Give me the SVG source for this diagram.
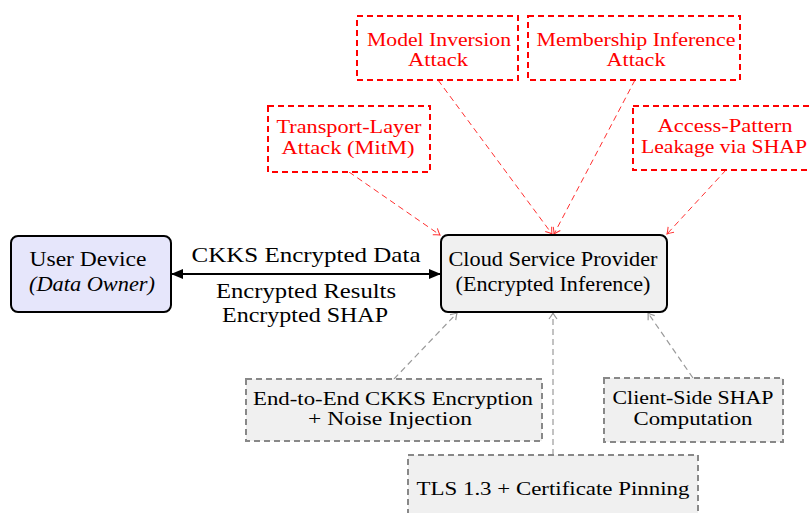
<svg xmlns="http://www.w3.org/2000/svg" width="810" height="513" viewBox="0 0 810 513">
<style>
  text { font-family: "Liberation Serif", "DejaVu Serif", serif; text-anchor: middle; fill: #000; }
  .main { font-size: 22px; }
  .sm { font-size: 19px; }
  .red { fill: #ff0000; }
  .attack { fill: #ffffff; stroke: #ff0000; stroke-width: 2; stroke-dasharray: 6 4; }
  .defense { fill: #f0f0f0; stroke: #888888; stroke-width: 2; stroke-dasharray: 6 4; }
  .solid { stroke: #000; stroke-width: 2; }
  .rline { stroke: #ff3030; stroke-width: 1; stroke-dasharray: 6 4; fill: none; }
  .gline { stroke: #9a9a9a; stroke-width: 1.2; stroke-dasharray: 6 4; fill: none; }
</style>
<defs>
  <marker id="tri" viewBox="-12 -6 13 12" refX="0" refY="0" markerWidth="13" markerHeight="12" markerUnits="userSpaceOnUse" orient="auto-start-reverse">
    <path d="M -12 -5 L 0 0 L -12 5 Z" fill="#000"/>
  </marker>
  <marker id="openRed" viewBox="-8 -5 9 10" refX="0" refY="0" markerWidth="9" markerHeight="10" markerUnits="userSpaceOnUse" orient="auto">
    <path d="M -6 -4 Q -2 -1 0 0 Q -2 1 -6 4" fill="none" stroke="#ff3030" stroke-width="1"/>
  </marker>
  <marker id="openGray" viewBox="-8 -5 9 10" refX="0" refY="0" markerWidth="9" markerHeight="10" markerUnits="userSpaceOnUse" orient="auto">
    <path d="M -6 -4 Q -2 -1 0 0 Q -2 1 -6 4" fill="none" stroke="#9a9a9a" stroke-width="1.2"/>
  </marker>
</defs>

<g id="connectors">
  <line x1="171" y1="274" x2="441" y2="274" class="solid" marker-start="url(#tri)" marker-end="url(#tri)"/>
  <line x1="349" y1="172" x2="440" y2="235" class="rline" marker-end="url(#openRed)"/>
  <line x1="438" y1="80" x2="552" y2="234" class="rline" marker-end="url(#openRed)"/>
  <line x1="635" y1="80" x2="554" y2="234" class="rline" marker-end="url(#openRed)"/>
  <line x1="726" y1="170" x2="667" y2="234" class="rline" marker-end="url(#openRed)"/>
  <line x1="394" y1="379" x2="457" y2="313" class="gline" marker-end="url(#openGray)"/>
  <line x1="553" y1="455" x2="553" y2="313" class="gline" marker-end="url(#openGray)"/>
  <line x1="693" y1="378" x2="648" y2="313" class="gline" marker-end="url(#openGray)"/>
  <g id="edge-labels" class="main">
    <text x="306" y="262" textLength="229" lengthAdjust="spacingAndGlyphs">CKKS Encrypted Data</text>
    <text x="306" y="298" textLength="180" lengthAdjust="spacingAndGlyphs">Encrypted Results</text>
    <text x="305" y="322" textLength="166" lengthAdjust="spacingAndGlyphs">Encrypted SHAP</text>
  </g>
</g>

<g id="user-device">
  <rect x="11" y="236" width="160" height="76" rx="7" fill="#e6e6fb" stroke="#000" stroke-width="2"/>
  <text class="main" x="88" y="266" textLength="117" lengthAdjust="spacingAndGlyphs">User Device</text>
  <text class="main" x="92" y="291" font-style="italic" textLength="126" lengthAdjust="spacingAndGlyphs">(Data Owner)</text>
</g>

<g id="cloud-provider">
  <rect x="441" y="235" width="226" height="77" rx="7" fill="#f0f0f0" stroke="#000" stroke-width="2"/>
  <text class="main" x="553" y="266" textLength="209" lengthAdjust="spacingAndGlyphs">Cloud Service Provider</text>
  <text class="main" x="553" y="291" textLength="195" lengthAdjust="spacingAndGlyphs">(Encrypted Inference)</text>
</g>

<g id="model-inversion">
  <rect x="357" y="16" width="161" height="64" class="attack"/>
  <text class="sm red" x="439" y="46" textLength="144" lengthAdjust="spacingAndGlyphs">Model Inversion</text>
  <text class="sm red" x="438" y="66" textLength="60" lengthAdjust="spacingAndGlyphs">Attack</text>
</g>

<g id="membership-inference">
  <rect x="528" y="16" width="212" height="64" class="attack"/>
  <text class="sm red" x="636" y="46" textLength="199" lengthAdjust="spacingAndGlyphs">Membership Inference</text>
  <text class="sm red" x="636" y="66" textLength="59" lengthAdjust="spacingAndGlyphs">Attack</text>
</g>

<g id="transport-attack">
  <rect x="268" y="106" width="162" height="66" class="attack"/>
  <text class="sm red" x="349" y="133" textLength="145" lengthAdjust="spacingAndGlyphs">Transport-Layer</text>
  <text class="sm red" x="348" y="154" textLength="133" lengthAdjust="spacingAndGlyphs">Attack (MitM)</text>
</g>

<g id="access-pattern">
  <rect x="633" y="106" width="190" height="64" class="attack"/>
  <text class="sm red" x="725" y="132" textLength="135" lengthAdjust="spacingAndGlyphs">Access-Pattern</text>
  <text class="sm red" x="724" y="153" textLength="166" lengthAdjust="spacingAndGlyphs">Leakage via SHAP</text>
</g>

<g id="e2e-ckks">
  <rect x="246" y="379" width="296" height="62" class="defense"/>
  <text class="sm" x="393" y="405" textLength="280" lengthAdjust="spacingAndGlyphs">End-to-End CKKS Encryption</text>
  <text class="sm" x="390" y="425" textLength="164" lengthAdjust="spacingAndGlyphs">+ Noise Injection</text>
</g>

<g id="client-shap">
  <rect x="604" y="378" width="179" height="64" class="defense"/>
  <text class="sm" x="693" y="404" textLength="161" lengthAdjust="spacingAndGlyphs">Client-Side SHAP</text>
  <text class="sm" x="693" y="425" textLength="119" lengthAdjust="spacingAndGlyphs">Computation</text>
</g>

<g id="tls">
  <rect x="408" y="455" width="290" height="70" class="defense"/>
  <text class="sm" x="553" y="495" textLength="273" lengthAdjust="spacingAndGlyphs">TLS 1.3 + Certificate Pinning</text>
</g>
</svg>
